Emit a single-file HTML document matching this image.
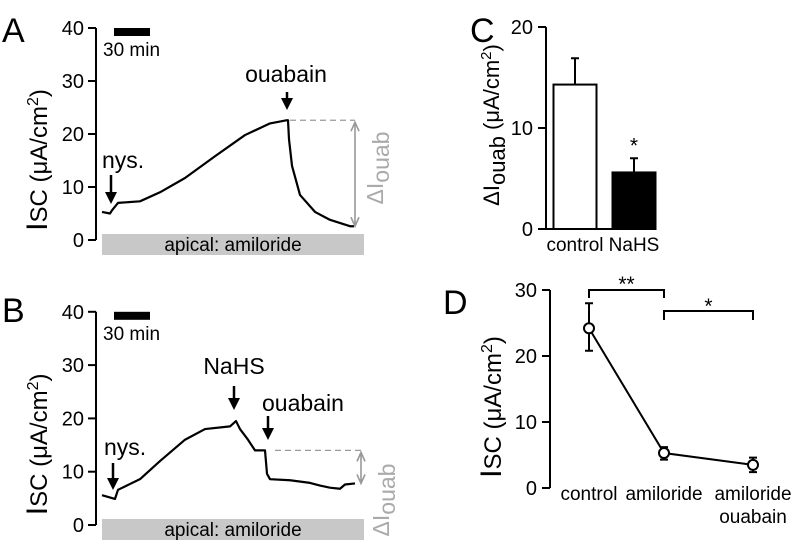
<!DOCTYPE html>
<html><head><meta charset="utf-8"><style>
body{margin:0;background:#fff}
svg{display:block;font-family:"Liberation Sans",sans-serif}
</style></head><body>
<svg id="fig" width="794" height="551" viewBox="0 0 794 551">
<g id="A"></g>
<g id="B"></g>
<g id="C"></g>
<g id="D"></g>
</svg>
<script>
// Panel A trace (time in px-index, value in µA/cm2)
const traceATime=[0,8,10,16,38,58,83,113,143,168,185,186,187,190,198,213,228,248,252];
const traceAVal=[5.3,5.0,5.6,7.0,7.3,9.0,11.7,15.8,19.8,22.0,22.6,22.6,19,14,8.5,5.3,3.8,2.6,2.6];
const traceBTime=[0,13,16,38,58,83,103,128,134,138,146,153,163,165,168,188,208,218,228,238,243,253];
const traceBVal=[5.6,4.9,6.6,8.6,12,16,18,18.5,19.5,18,16,14,14,9.6,8.6,8.4,7.9,7.4,7.0,6.8,7.6,7.8];
const ticks4=[0,10,20,30,40];
const barCats=["control","NaHS"];
const barVals=[14.3,5.6];
const barErr=[16.9,7.0];
const barTicks=[0,10,20];
const dCats=["control","amiloride","amiloride"];
const dVals=[24.2,5.3,3.5];
const dHi=[28.0,6.2,4.6];
const dLo=[20.8,4.3,2.4];
const dTicks=[0,10,20,30];
const NS="http://www.w3.org/2000/svg";
function mk(p,tag,at,txt){const e=document.createElementNS(NS,tag);for(const k in at)e.setAttribute(k,at[k]);if(txt!==undefined)e.textContent=txt;p.appendChild(e);return e;}

function tracePanel(g,y0,ys,tt,tv){
  const X0=102, y=v=>y0-ys*v, x=t=>X0+t;
  const ax=mk(g,'line',{x1:96,y1:y(0),x2:96,y2:y(40),stroke:'#000','stroke-width':2});
  
  ticks4.forEach(v=>{
    const tk=mk(g,'line',{x1:88,y1:y(v),x2:96,y2:y(v),stroke:'#000','stroke-width':2});
    
    const tl=mk(g,'text',{x:84,y:y(v)+7,'text-anchor':'end','font-size':20},v);
    
  });
  const bar=mk(g,'rect',{x:102,y:y0-6,width:262,height:21,fill:'#c8c8c8'});
  
  const bt=mk(g,'text',{x:233,y:y0+11,'text-anchor':'middle','font-size':19},'apical: amiloride');
  
  const sb=mk(g,'rect',{x:114,y:y(40),width:36,height:8,fill:'#000'});
  
  const st=mk(g,'text',{x:103,y:y(40)+28,'font-size':19},'30 min');
  
  const yt=mk(g,'text',{transform:`translate(47,${y(20)+26}) rotate(-90)`,'text-anchor':'middle','font-size':24});
  yt.innerHTML='<tspan font-size="30">I</tspan>SC (μA/cm<tspan dy="-9" font-size="16">2</tspan><tspan dy="9">)</tspan>';
  
  const pts=tt.map((t,i)=>x(t)+','+y(tv[i])).join(' ');
  const tr=mk(g,'polyline',{points:pts,fill:'none',stroke:'#000','stroke-width':2.2,'stroke-linejoin':'round'});
  
  return {x,y};
}
function arrow(g,x,y1,y2,name){
  const a=mk(g,'path',{d:`M${x},${y1}V${y2-10}`,stroke:'#000','stroke-width':2.5,fill:'none'});
  
  const h=mk(g,'path',{d:`M${x-6},${y2-12}L${x+6},${y2-12}L${x},${y2}z`,fill:'#000'});
  
}
function label(g,x,y,s,txt,name,anchor){const t=mk(g,'text',{x:x,y:y,'font-size':s,'text-anchor':anchor||'middle'},txt);return t;}
function delta(g,x,yTop,yBot,xStart,tx,ty){
  const d=mk(g,'line',{x1:xStart,y1:yTop,x2:x,y2:yTop,stroke:'#999','stroke-width':1.3,'stroke-dasharray':'6,4'});
  
  const a=mk(g,'path',{d:`M${x},${yTop+3}V${yBot}M${x-4},${yTop+11}L${x},${yTop+2}L${x+4},${yTop+11}M${x-4},${yBot-9}L${x},${yBot}L${x+4},${yBot-9}`,stroke:'#999','stroke-width':1.6,fill:'none'});
  
  const t=mk(g,'text',{transform:`translate(${tx},${ty}) rotate(-90)`,'text-anchor':'middle','font-size':23,fill:'#aaa'});
  t.innerHTML='ΔI<tspan dy="6">ouab</tspan>';
  
}
// Panel A
const gA=document.getElementById('A');
const pa=tracePanel(gA,240,5.3,traceATime,traceAVal);
label(gA,2,42,34,'A','panel-letter-a','start');
label(gA,102,168,23,'nys.','nys-label','start');
arrow(gA,111,175,204,'nys-arrow');
label(gA,286,82,23,'ouabain','ouabain-label');
arrow(gA,287,92,110,'ouabain-arrow');
delta(gA,355,pa.y(22.6),pa.y(2.6),290,383,168);
// Panel B
const gB=document.getElementById('B');
const pb=tracePanel(gB,525,5.33,traceBTime,traceBVal);
label(gB,2,322,34,'B','panel-letter-b','start');
label(gB,104,455,23,'nys.','nys-label','start');
arrow(gB,113,463,490,'nys-arrow');
label(gB,234,374,23,'NaHS','nahs-label');
arrow(gB,234,386,410,'nahs-arrow');
label(gB,262,411,23,'ouabain','ouabain-label','start');
arrow(gB,268,416,440,'ouabain-arrow');
delta(gB,361,pb.y(14),pb.y(7.8),275,389,500);
// Panel C
const gC=document.getElementById('C');
(function(){
  const y=v=>229-10.1*v, bx=[575,634], bw=43;
  label(gC,470,42,34,'C','panel-letter-c','start');
  const ax=mk(gC,'line',{x1:546,y1:y(0),x2:546,y2:y(20),stroke:'#000','stroke-width':2});
  const xa=mk(gC,'line',{x1:546,y1:y(0),x2:656,y2:y(0),stroke:'#000','stroke-width':2});
  barTicks.forEach(v=>{const t=mk(gC,'line',{x1:538,y1:y(v),x2:546,y2:y(v),stroke:'#000','stroke-width':2});
    label(gC,533,y(v)+7,20,v,'y-tick-label','end');});
  barCats.forEach((c,i)=>{
    const r=mk(gC,'rect',{x:bx[i]-bw/2,y:y(barVals[i]),width:bw,height:y(0)-y(barVals[i]),fill:i?'#000':'#fff',stroke:'#000','stroke-width':2});
    
    const e=mk(gC,'path',{d:`M${bx[i]},${y(barVals[i])}V${y(barErr[i])}M${bx[i]-4},${y(barErr[i])}H${bx[i]+4}`,stroke:'#000','stroke-width':2,fill:'none'});
    
    label(gC,bx[i],251,19,c,'x-tick-label');
  });
  label(gC,bx[1],y(barErr[1])-6,21,'*','significance-star');
  const t=mk(gC,'text',{transform:'translate(499,125) rotate(-90)','text-anchor':'middle','font-size':22});
  t.innerHTML='ΔI<tspan dy="6">ouab</tspan><tspan dy="-6"> (μA/cm</tspan><tspan dy="-8" font-size="15">2</tspan><tspan dy="8">)</tspan>';
  
})();
// Panel D
const gD=document.getElementById('D');
(function(){
  const y=v=>488-6.6*v, px=[589,664,753];
  label(gD,443,314,34,'D','panel-letter-d','start');
  const ax=mk(gD,'line',{x1:550,y1:y(0),x2:550,y2:y(30),stroke:'#000','stroke-width':2});
  dTicks.forEach(v=>{const t=mk(gD,'line',{x1:542,y1:y(v),x2:550,y2:y(v),stroke:'#000','stroke-width':2});
    label(gD,537,y(v)+7,20,v,'y-tick-label','end');});
  const ln=mk(gD,'polyline',{points:px.map((x,i)=>x+','+y(dVals[i])).join(' '),fill:'none',stroke:'#000','stroke-width':2});
  
  px.forEach((x,i)=>{
    const e=mk(gD,'path',{d:`M${x},${y(dLo[i])}V${y(dHi[i])}M${x-4},${y(dLo[i])}H${x+4}M${x-4},${y(dHi[i])}H${x+4}`,stroke:'#000','stroke-width':2,fill:'none'});
    
    const c=mk(gD,'circle',{cx:x,cy:y(dVals[i]),r:5,fill:'#fff',stroke:'#000','stroke-width':2});
    
    label(gD,x,500,19,dCats[i],'x-tick-label');
  });
  label(gD,px[2],523,19,'ouabain','x-tick-label-ouabain');
  const b1=mk(gD,'path',{d:`M${px[0]},298V290H${px[1]}V298`,stroke:'#000','stroke-width':2,fill:'none'});
  label(gD,(px[0]+px[1])/2,291,21,'**','significance-stars-1');
  const b2=mk(gD,'path',{d:`M${px[1]},320V311H${px[2]}V320`,stroke:'#000','stroke-width':2,fill:'none'});
  label(gD,(px[1]+px[2])/2,313,21,'*','significance-star-2');
  const t=mk(gD,'text',{transform:`translate(501,${y(15)+18}) rotate(-90)`,'text-anchor':'middle','font-size':24});
  t.innerHTML='<tspan font-size="30">I</tspan>SC (μA/cm<tspan dy="-9" font-size="16">2</tspan><tspan dy="9">)</tspan>';
  
})();
</script>
</body></html>
